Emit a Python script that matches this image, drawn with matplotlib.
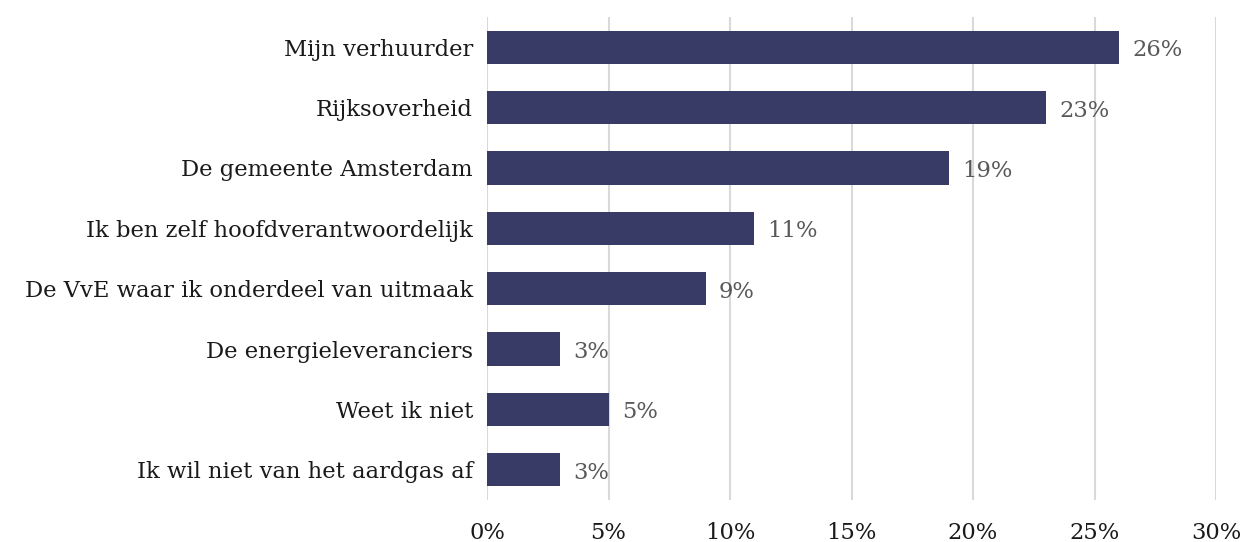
import matplotlib
matplotlib.use("Agg")
import matplotlib.pyplot as plt
from matplotlib.ticker import FuncFormatter

categories = [
    "Mijn verhuurder",
    "Rijksoverheid",
    "De gemeente Amsterdam",
    "Ik ben zelf hoofdverantwoordelijk",
    "De VvE waar ik onderdeel van uitmaak",
    "De energieleveranciers",
    "Weet ik niet",
    "Ik wil niet van het aardgas af",
]
values = [26, 23, 19, 11, 9, 3, 5, 3]
xticks = [0, 5, 10, 15, 20, 25, 30]

plt.rcParams['font.family'] = ['DejaVu Serif']

fig = plt.figure(figsize=(12.44, 5.42), dpi=100)
ax = fig.add_axes([487/1244, 1-500/542, (1216-487)/1244, 483/542])

ypos = list(range(len(categories)))
ax.barh(ypos, values, height=0.55, color="#383B66", zorder=3)
ax.set_ylim(len(categories)-0.5, -0.5)
ax.set_xlim(0, 30)
ax.set_yticks(ypos)
ax.set_yticklabels(categories, fontsize=16.3, color="#1a1a1a")
ax.set_xticks(xticks)
ax.xaxis.set_major_formatter(FuncFormatter(lambda v, p: f"{int(v)}%"))
ax.tick_params(axis='x', length=0, pad=16, labelsize=16.3, labelcolor="#1a1a1a")
ax.tick_params(axis='y', length=0, pad=10)
for s in ax.spines.values():
    s.set_visible(False)
ax.grid(axis='x', color="#D9D9D9", linewidth=1.5, zorder=0)
ax.set_axisbelow(True)

for y, v in zip(ypos, values):
    ax.text(v + 0.55, y + 0.05, f"{v}%", va='center', ha='left', fontsize=16.3, color="#595959")

fig.savefig("out.png", dpi=100)
